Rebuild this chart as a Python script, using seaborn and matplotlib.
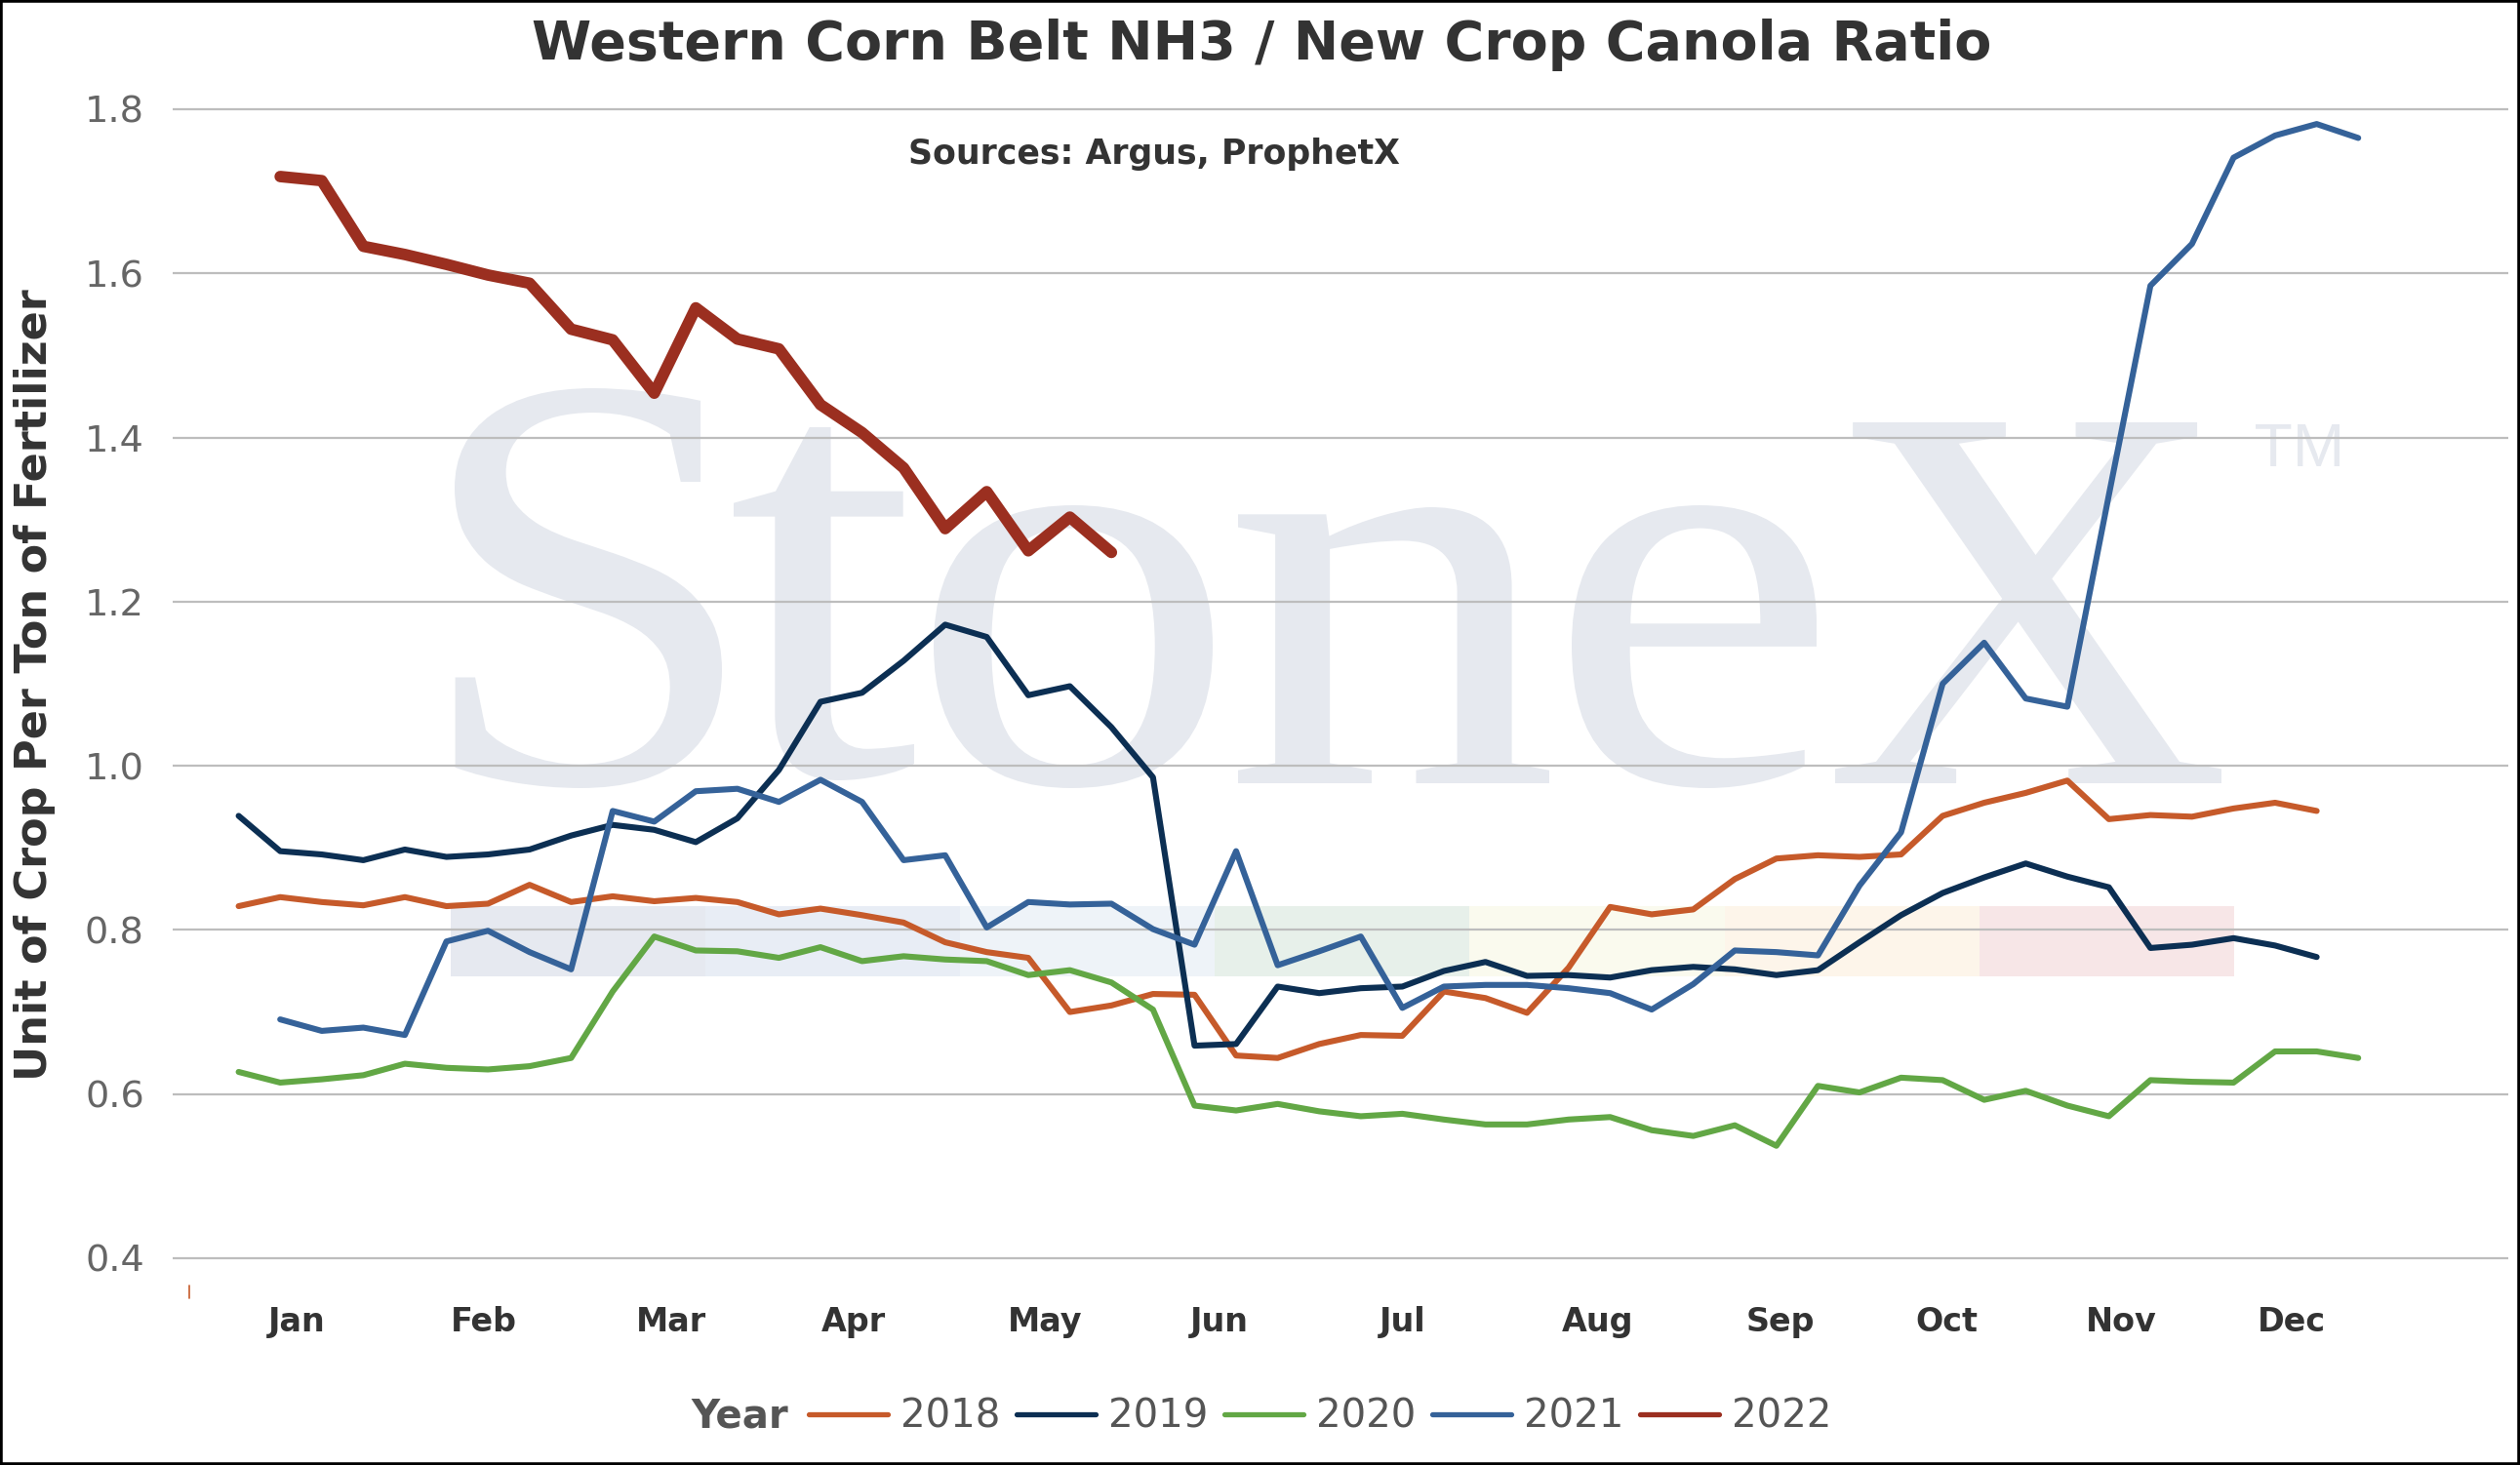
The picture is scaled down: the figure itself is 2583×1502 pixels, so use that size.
import numpy as np
import pandas as pd
import matplotlib
matplotlib.use("Agg")
import matplotlib.pyplot as plt
from matplotlib.lines import Line2D
from matplotlib.patches import Rectangle, PathPatch
from matplotlib.textpath import TextPath
from matplotlib.font_manager import FontProperties
from matplotlib.transforms import Affine2D, IdentityTransform
import seaborn as sns

# --- Figure geometry (pixels) ---
W, H = 2583, 1502
DPI = 100

# --- Data: weekly NH3 / new crop canola ratio ---
YEARS = ["2018", "2019", "2020", "2021", "2022"]
MONTHS = ["Jan", "Feb", "Mar", "Apr", "May", "Jun",
          "Jul", "Aug", "Sep", "Oct", "Nov", "Dec"]
N_WEEKS = 52

ratio_2018 = [0.829, 0.840, 0.834, 0.830, 0.840, 0.829, 0.832, 0.855, 0.834, 0.841,
              0.835, 0.839, 0.834, 0.819, 0.826, 0.818, 0.809, 0.785, 0.773, 0.766,
              0.700, 0.708, 0.722, 0.721, 0.647, 0.644, 0.661, 0.672, 0.671, 0.725,
              0.717, 0.699, 0.754, 0.828, 0.819, 0.825, 0.862, 0.887, 0.891, 0.889,
              0.892, 0.939, 0.955, 0.967, 0.982, 0.935, 0.940, 0.938, 0.948, 0.955,
              0.945]
ratio_2019 = [0.939, 0.896, 0.892, 0.885, 0.898, 0.889, 0.892, 0.898, 0.915, 0.928,
              0.922, 0.907, 0.936, 0.995, 1.078, 1.089, 1.128, 1.172, 1.157, 1.086,
              1.097, 1.047, 0.986, 0.659, 0.661, 0.731, 0.723, 0.729, 0.731, 0.750,
              0.761, 0.744, 0.745, 0.742, 0.751, 0.755, 0.752, 0.745, 0.751, 0.785,
              0.818, 0.845, 0.864, 0.881, 0.865, 0.852, 0.778, 0.782, 0.790, 0.781,
              0.767]
ratio_2020 = [0.627, 0.614, 0.618, 0.623, 0.637, 0.632, 0.630, 0.634, 0.644, 0.725,
              0.792, 0.775, 0.774, 0.766, 0.779, 0.762, 0.768, 0.764, 0.762, 0.745,
              0.751, 0.736, 0.703, 0.586, 0.580, 0.588, 0.579, 0.573, 0.576, 0.569,
              0.563, 0.563, 0.569, 0.572, 0.556, 0.549, 0.562, 0.537, 0.610, 0.602,
              0.620, 0.617, 0.593, 0.604, 0.586, 0.573, 0.617, 0.615, 0.614, 0.652,
              0.652, 0.644]
ratio_2021 = [np.nan, 0.691, 0.677, 0.681, 0.672, 0.786, 0.799, 0.773, 0.752, 0.945,
              0.932, 0.969, 0.972, 0.956, 0.983, 0.956, 0.885, 0.891, 0.803, 0.834,
              0.831, 0.832, 0.801, 0.782, 0.896, 0.757, 0.774, 0.792, 0.705, 0.731,
              0.733, 0.733, 0.729, 0.723, 0.703, 0.734, 0.775, 0.773, 0.769, 0.854,
              0.919, 1.100, 1.150, 1.082, 1.072, 1.330, 1.585, 1.636, 1.741, 1.768,
              1.782, 1.765]
ratio_2022 = [np.nan, 1.718, 1.713, 1.633, 1.623, 1.611, 1.598, 1.588, 1.532, 1.519,
              1.454, 1.558, 1.520, 1.508, 1.440, 1.406, 1.363, 1.289, 1.334, 1.262,
              1.303, 1.260]

COLORS = {"2018": "#c65a2a", "2019": "#0c2f53", "2020": "#62a745",
          "2021": "#356299", "2022": "#9b2f20"}
LINE_WIDTHS = {"2018": 4.4, "2019": 4.4, "2020": 4.4, "2021": 4.4, "2022": 8.5}
BAND_COLORS = ["#e6e9f0", "#e8edf5", "#eef3f8", "#e7f0ea",
               "#fafaee", "#fdf5ea", "#f7e6e7"]
WATERMARK = "#e6e9ef"


def build_frame():
    """Long-form table: one row per (year, week) with a value."""
    series = [ratio_2018, ratio_2019, ratio_2020, ratio_2021, ratio_2022]
    rows = []
    for year, values in zip(YEARS, series):
        padded = list(values) + [np.nan] * (N_WEEKS - len(values))
        for week, v in enumerate(padded):
            rows.append({"week": week, "ratio": v, "year": year})
    return pd.DataFrame(rows).dropna()


def glyph(ax, text, box, family):
    """Watermark glyph squeezed into a pixel box (left, right, top, bottom)."""
    x0, x1, top, bot = box
    tp = TextPath((0, 0), text, size=100, prop=FontProperties(family=family))
    ext = tp.get_extents()
    tr = (Affine2D().translate(-ext.x0, -ext.y0)
          .scale((x1 - x0) / ext.width, (bot - top) / ext.height)
          .translate(x0, H - bot))
    patch = PathPatch(tr.transform_path(tp), transform=IdentityTransform(),
                      facecolor=WATERMARK, edgecolor="none", zorder=0, clip_on=False)
    ax.add_artist(patch)


df = build_frame()

sns.set_style("white")
plt.rcParams["font.family"] = ["DejaVu Sans"]

fig = plt.figure(figsize=(W / DPI, H / DPI), dpi=DPI)

# axes box in pixels: gridlines span x 177..2571, 1.8 at y=112, 0.4 at y=1290
px_per_unit = (1290 - 112) / 1.4
ax_top, ax_bot = 80, 1310
ax = fig.add_axes([177 / W, 1 - ax_bot / H, (2571 - 177) / W, (ax_bot - ax_top) / H])

# StoneX watermark, letter by letter
for ch, box in [("S", (466, 740, 398, 808)), ("t", (752, 937, 438, 800)),
                ("o", (957, 1243, 518, 808)), ("n", (1269, 1588, 520, 803)),
                ("e", (1611, 1862, 518, 808)), ("X", (1881, 2277, 433, 803))]:
    glyph(ax, ch, box, "Liberation Serif")
glyph(ax, "TM", (2312, 2398, 435, 478), "Liberation Sans")

# logo colour strip
band_w = 6.13
for i, c in enumerate(BAND_COLORS):
    ax.add_patch(Rectangle((5.10 + i * band_w, 0.743), band_w, 0.0855,
                           facecolor=c, edgecolor="none", zorder=0.3))

sns.lineplot(data=df, x="week", y="ratio", hue="year", size="year",
             palette=COLORS, sizes=LINE_WIDTHS, estimator=None,
             legend=False, ax=ax)
width_by_color = {matplotlib.colors.to_hex(COLORS[y]): LINE_WIDTHS[y] for y in YEARS}
for ln in ax.lines:
    ln.set_linewidth(width_by_color.get(matplotlib.colors.to_hex(ln.get_color()), 4.4))
    ln.set_solid_joinstyle("round")
    ln.set_solid_capstyle("round")
    ln.set_zorder(2)

ax.set_ylim(0.4 - (ax_bot - 1290) / px_per_unit, 1.8 + (112 - ax_top) / px_per_unit)
wk_px = 42.6
ax.set_xlim(-(244.6 - 177) / wk_px, (2571 - 244.6) / wk_px)

# grid / ticks
ax.set_axisbelow(True)
ax.yaxis.grid(True, color="#bdbdbd", lw=1.6)
ax.xaxis.grid(False)
for s in ax.spines.values():
    s.set_visible(False)
yt = [0.4, 0.6, 0.8, 1.0, 1.2, 1.4, 1.6, 1.8]
ax.set_yticks(yt)
ax.set_yticklabels([f"{v:.1f}" for v in yt], fontsize=27.5, color="#666666")
month_pos = [1.39, 5.9, 10.4, 14.8, 19.4, 23.6, 28.0, 32.7, 37.1, 41.1, 45.3, 49.4]
ax.set_xticks(month_pos)
ax.set_xticklabels(MONTHS, fontsize=24, fontweight="bold", color="#333333")
ax.tick_params(axis="y", length=0, pad=21)
ax.tick_params(axis="x", length=0, pad=21)
ax.set_xlabel("")
ax.set_ylabel("")

# texts
fig.text(1293 / W, 1 - 46 / H, "Western Corn Belt NH3 / New Crop Canola Ratio",
         ha="center", va="center", fontsize=40, fontweight="bold", color="#333333")
fig.text(1183 / W, 1 - 158 / H, "Sources: Argus, ProphetX",
         ha="center", va="center", fontsize=25, fontweight="bold", color="#333333")
fig.text(36 / W, 1 - 702 / H, "Unit of Crop Per Ton of Fertilizer", rotation=90,
         ha="center", va="center", fontsize=32, fontweight="bold", color="#333333")

# small stray mark left of the first month label
fig.add_artist(Line2D([194 / W, 194 / W], [1 - 1331 / H, 1 - 1318 / H],
                      transform=fig.transFigure, color=COLORS["2018"], lw=1.2))

# legend
fig.text(808 / W, 1 - 1453 / H, "Year", ha="right", va="center",
         fontsize=29, fontweight="bold", color="#555555")
handles = [Line2D([], [], color=COLORS[y], lw=3.8) for y in YEARS]
leg = fig.legend(handles, YEARS, loc="center left", bbox_to_anchor=(829 / W, 1 - 1453 / H),
                 ncol=5, frameon=False, fontsize=29, handlelength=2.0,
                 handletextpad=0.33, columnspacing=0.42, borderpad=0, borderaxespad=0)
for t in leg.get_texts():
    t.set_color("#555555")

# outer frame
fig.add_artist(Rectangle((0, 0), 1, 1, transform=fig.transFigure, fill=False,
                         edgecolor="black", lw=4))

fig.savefig("out.png", dpi=DPI)
